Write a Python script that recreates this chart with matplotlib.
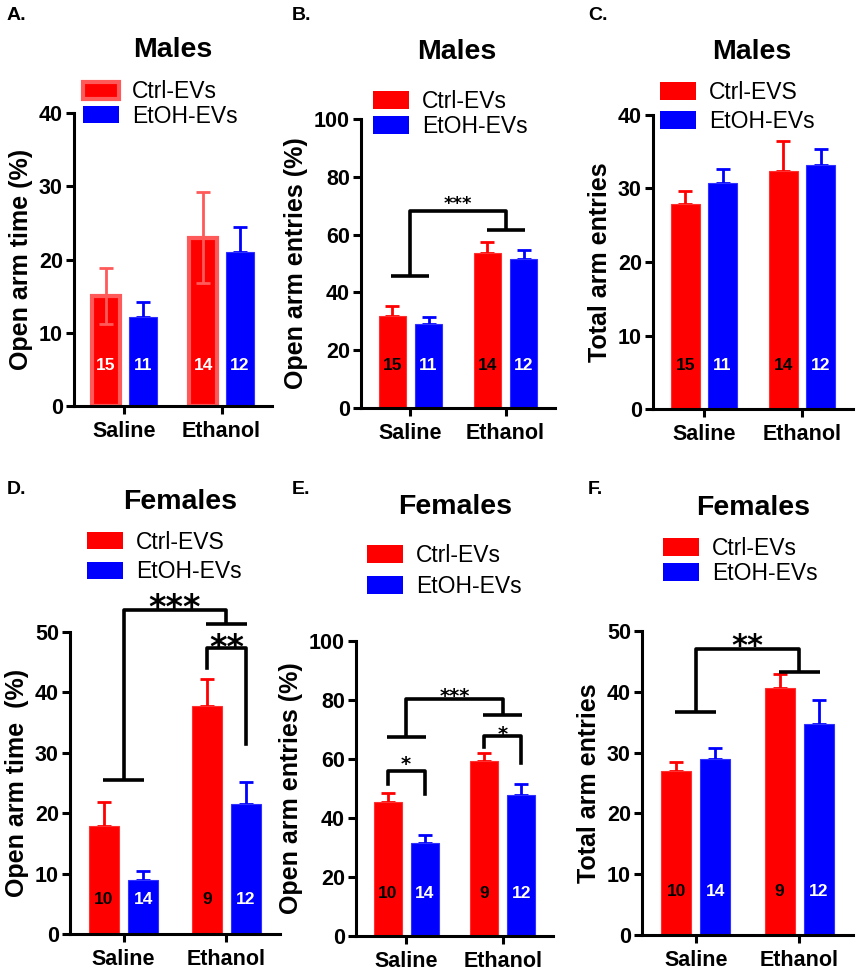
import matplotlib
matplotlib.use('Agg')
import matplotlib.pyplot as plt
from matplotlib.patches import Patch
from matplotlib.transforms import offset_copy

plt.rcParams['font.family'] = ['Liberation Sans', 'DejaVu Sans']

W, H = 859, 975

groups = ['Saline', 'Ethanol']

# panel A-C: males, D-F: females
ctrl_mean = {'A': [15.0, 23.0], 'B': [31.9, 53.6], 'C': [27.9, 32.4],
             'D': [17.8, 37.8], 'E': [45.4, 59.3], 'F': [26.9, 40.6]}
ctrl_sem = {'A': [3.8, 6.2], 'B': [3.5, 3.7], 'C': [1.8, 4.0],
            'D': [4.0, 4.4], 'E': [3.2, 2.6], 'F': [1.6, 2.3]}
etoh_mean = {'A': [12.2, 21.0], 'B': [29.0, 51.5], 'C': [30.7, 33.2],
             'D': [9.0, 21.6], 'E': [31.6, 47.7], 'F': [29.0, 34.7]}
etoh_sem = {'A': [2.0, 3.5], 'B': [2.6, 3.0], 'C': [1.9, 2.2],
            'D': [1.4, 3.5], 'E': [2.6, 3.7], 'F': [1.8, 3.9]}

n_ctrl_male = [15, 14]
n_etoh_male = [11, 12]
n_ctrl_female = [10, 9]
n_etoh_female = [14, 12]

titles = {'A': 'Males', 'B': 'Males', 'C': 'Males',
          'D': 'Females', 'E': 'Females', 'F': 'Females'}
ylabels = {'A': 'Open arm time (%)', 'B': 'Open arm entries (%)', 'C': 'Total arm entries',
           'D': 'Open arm time  (%)', 'E': 'Open arm entries (%)', 'F': 'Total arm entries'}
ctrl_labels = {'A': 'Ctrl-EVs', 'B': 'Ctrl-EVs', 'C': 'Ctrl-EVS',
               'D': 'Ctrl-EVS', 'E': 'Ctrl-EVs', 'F': 'Ctrl-EVs'}
etoh_label = 'EtOH-EVs'
ymax = {'A': 40, 'B': 100, 'C': 40, 'D': 50, 'E': 100, 'F': 50}
ystep = {'A': 10, 'B': 20, 'C': 10, 'D': 10, 'E': 20, 'F': 10}
n_y = {'A': 5.5, 'B': 14.7, 'C': 5.9, 'D': 5.7, 'E': 14.4, 'F': 7.1}

# group-level brackets: (saline level, top level, ethanol level, star y, stars)
main_brackets = {'B': (45.6, 68.3, 61.6, 72.6, '***'),
                 'D': (25.5, 53.7, 51.3, 55.5, '***'),
                 'E': (67.6, 80.2, 74.8, 83.1, '***'),
                 'F': (36.6, 47.0, 43.3, 49.0, '**')}
# within-group brackets: (group index, top, left end, right end, star y, stars)
pair_brackets = {'D': [(1, 47.4, 44.0, 31.4, 48.9, '**')],
                 'E': [(0, 56.0, 51.5, 48.2, 60.2, '*'),
                       (1, 67.8, 64.1, 58.7, 70.3, '*')]}
star_size = {'B': 13, 'D': 24, 'E': 14, 'F': 22}
pair_star_size = {'D': 24, 'E': 14}

# layout in pixels: left, top, right, bottom of each axes
boxes = {'A': (74, 113, 272, 406), 'B': (361, 119, 555, 408), 'C': (653, 115, 853, 409),
         'D': (70, 632, 280, 934), 'E': (356, 641, 553, 936), 'F': (642, 631, 853, 935)}
legend_at = {'A': (83, 104, 0.05), 'B': (373, 114, 0.1), 'C': (660, 107, 0.25),
             'D': (87, 557, 0.3), 'E': (367, 571, 0.35), 'F': (663, 561, 0.1)}
title_at = {'A': (173, 50), 'B': (457, 52), 'C': (752, 52),
            'D': (180, 502), 'E': (455, 507), 'F': (753, 508)}
letter_at = {'A': (7, 16), 'B': (292, 16), 'C': (588, 16),
             'D': (7, 490), 'E': (292, 490), 'F': (588, 490)}

RED = '#ff0000'
BLUE = '#0000ff'
off, bw = 0.19, 0.29

fig = plt.figure(figsize=(W / 100, H / 100), dpi=100)


def stars_text(ax, x, y, s, size):
    # DejaVu asterisks sit high in the line box, pull them down a bit
    tr = offset_copy(ax.transData, fig=fig, y=-0.3 * size, units='points')
    ax.text(x, y, s, ha='center', va='center', fontsize=size, fontweight='bold',
            family='DejaVu Sans', transform=tr, clip_on=False)


for key in 'ABCDEF':
    l, t, r, b = boxes[key]
    ax = fig.add_axes([l / W, 1 - b / H, (r - l) / W, (b - t) / H])
    x = [0, 1]
    xc = [i - off for i in x]
    xe = [i + off for i in x]
    if key == 'A':
        ax.bar(xc, ctrl_mean[key], bw, color=RED, edgecolor='#ff5a5a', linewidth=3, zorder=2)
        ax.errorbar(xc, ctrl_mean[key], yerr=ctrl_sem[key], fmt='none', ecolor='#ff5a5a',
                    elinewidth=2, capsize=5, capthick=2, zorder=3)
    else:
        ax.bar(xc, ctrl_mean[key], bw, color=RED, edgecolor='#ff3030', linewidth=0.8, zorder=2)
        ax.errorbar(xc, ctrl_mean[key], yerr=[[0, 0], ctrl_sem[key]], fmt='none', ecolor=RED,
                    elinewidth=2, capsize=5, capthick=2, zorder=1)
    ax.bar(xe, etoh_mean[key], bw, color=BLUE, edgecolor='#3030ff', linewidth=0.8, zorder=2)
    ax.errorbar(xe, etoh_mean[key], yerr=[[0, 0], etoh_sem[key]], fmt='none', ecolor=BLUE,
                elinewidth=2, capsize=5, capthick=2, zorder=1)

    male = key in 'ABC'
    nc = n_ctrl_male if male else n_ctrl_female
    ne = n_etoh_male if male else n_etoh_female
    ccol = 'white' if key == 'A' else 'black'
    for i in range(2):
        ax.text(xc[i], n_y[key], str(nc[i]), ha='center', va='center', color=ccol,
                fontsize=12.5, fontweight='bold', zorder=4)
        ax.text(xe[i], n_y[key], str(ne[i]), ha='center', va='center', color='white',
                fontsize=12.5, fontweight='bold', zorder=4)

    ax.set_xlim(-0.52, 1.52)
    ax.set_ylim(0, ymax[key])
    ax.set_yticks(range(0, ymax[key] + 1, ystep[key]))
    ax.set_xticks(x)
    ax.set_xticklabels(groups, fontsize=15.5, fontweight='bold')
    for lab in ax.get_yticklabels():
        lab.set_fontsize(15.5)
        lab.set_fontweight('bold')
    ax.set_ylabel(ylabels[key], fontsize=18, fontweight='bold', labelpad=4)
    for s in ['top', 'right']:
        ax.spines[s].set_visible(False)
    for s in ['left', 'bottom']:
        ax.spines[s].set_linewidth(2.2)
    ax.tick_params(width=2.2, length=6, pad=2)
    ax.tick_params(axis='x', pad=5)

    if key in main_brackets:
        lo, top, hi, sy, stars = main_brackets[key]
        hw = 0.2
        kw = dict(color='black', lw=2.6, clip_on=False, solid_capstyle='butt')
        ax.plot([x[0] - hw, x[0] + hw], [lo, lo], **kw)
        ax.plot([x[0], x[0], x[1], x[1]], [lo, top, top, hi], **kw)
        ax.plot([x[1] - hw, x[1] + hw], [hi, hi], **kw)
        stars_text(ax, (x[0] + x[1]) / 2, sy, stars, star_size[key])
    for gi, top, left, right, sy, stars in pair_brackets.get(key, []):
        ax.plot([xc[gi], xc[gi], xe[gi], xe[gi]], [left, top, top, right],
                color='black', lw=2.6, clip_on=False)
        stars_text(ax, (xc[gi] + xe[gi]) / 2, sy, stars, pair_star_size[key])

    lx, ly, lsp = legend_at[key]
    handles = [Patch(facecolor=RED, edgecolor='#ff5a5a' if key == 'A' else RED,
                     linewidth=3 if key == 'A' else 0),
               Patch(facecolor=BLUE, edgecolor=BLUE, linewidth=0)]
    fig.legend(handles, [ctrl_labels[key], etoh_label], loc='center left',
               bbox_to_anchor=(lx / W, 1 - ly / H), frameon=False, fontsize=16.5,
               handlelength=1.55, handleheight=0.8, handletextpad=0.6,
               labelspacing=lsp, borderpad=0, borderaxespad=0)

    tx, ty = title_at[key]
    fig.text(tx / W, 1 - ty / H, titles[key], ha='center', va='center',
             fontsize=20.5, fontweight='bold')
    px, py = letter_at[key]
    fig.text(px / W, 1 - py / H, key + '.', ha='left', va='center',
             fontsize=14, fontweight='bold')

fig.savefig('out.png', dpi=100)
